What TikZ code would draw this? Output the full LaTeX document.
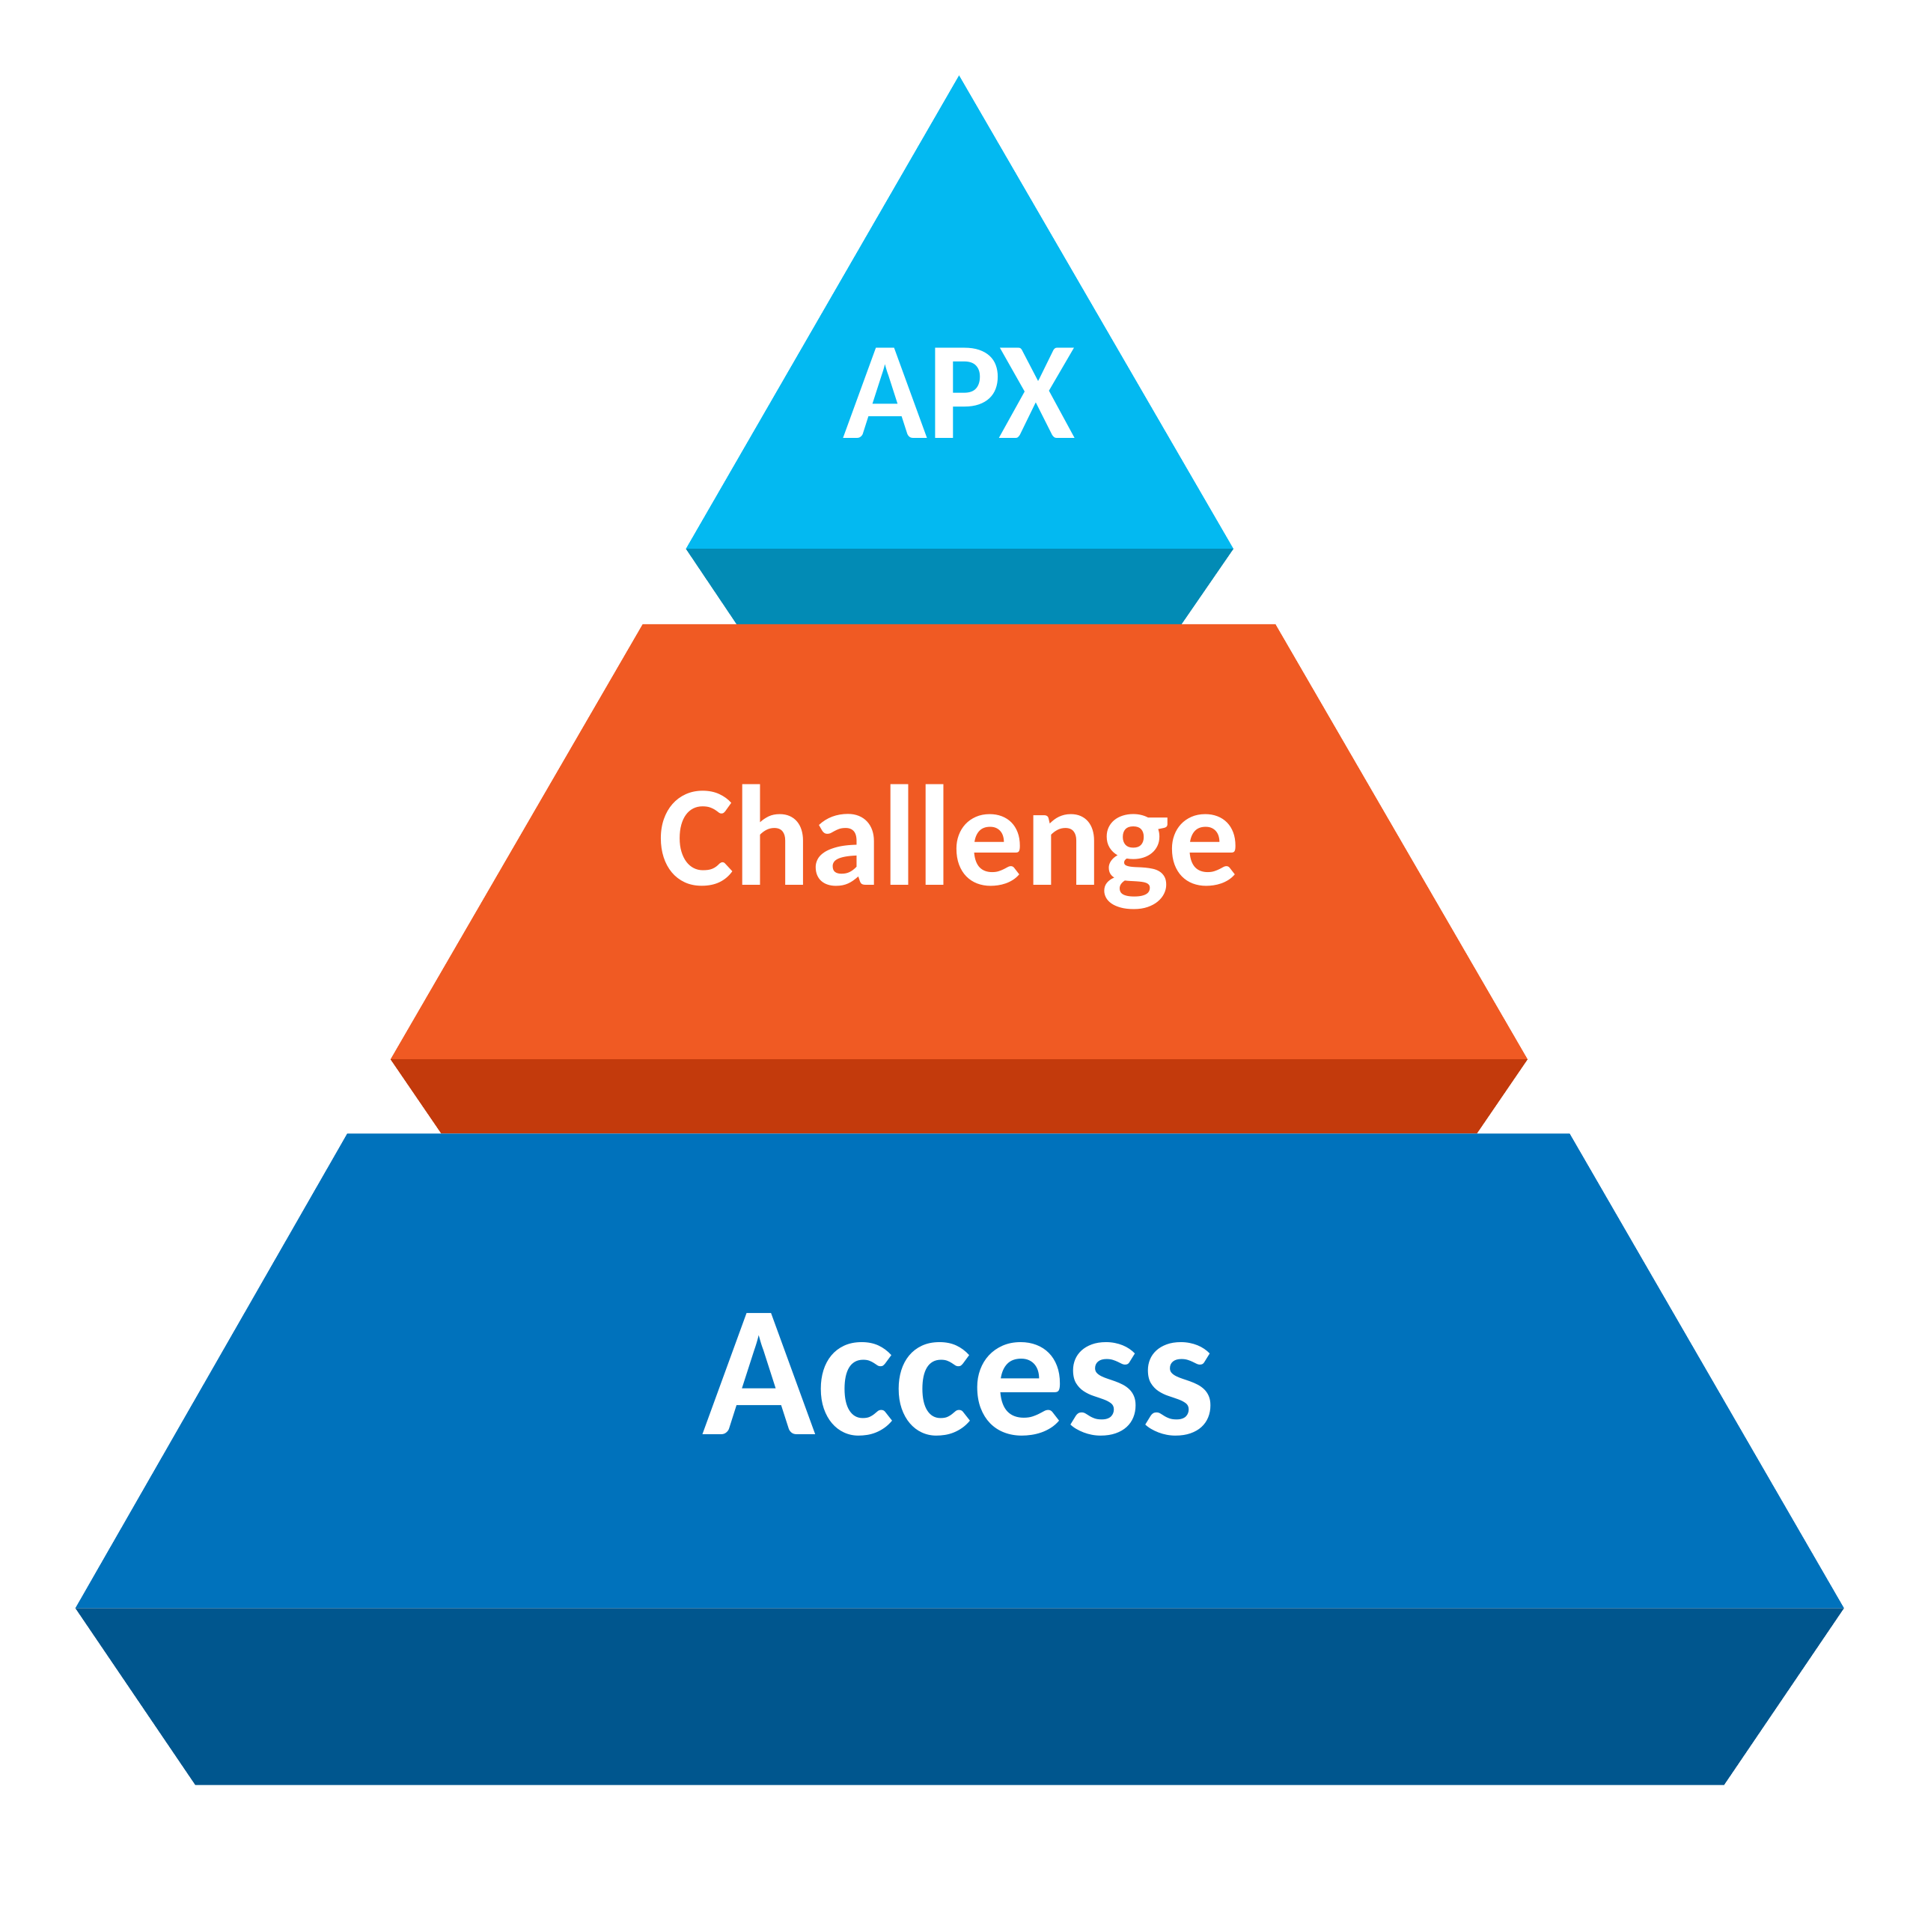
\documentclass[tikz,border=0pt]{standalone}
\usepackage{fontspec}
\setmainfont{Carlito}
\definecolor{apx}{HTML}{03B9F1}
\definecolor{apxd}{HTML}{028BB5}
\definecolor{chl}{HTML}{F05A23}
\definecolor{chld}{HTML}{C33A0C}
\definecolor{acc}{HTML}{0072BC}
\definecolor{accd}{HTML}{00568E}
\tikzset{lbl/.style={text=white,font=\bfseries,anchor=center}}
\begin{document}
\begin{tikzpicture}[x=0.01cm,y=-0.01cm]
\useasboundingbox[fill=white] (0,0) rectangle (1550,1563);
% top
\fill[apx] (776,61) -- (998,444) -- (555,444) -- cycle;
\fill[apxd] (555,444) -- (998,444) -- (956,505) -- (596,505) -- cycle;
% middle
\fill[chl] (520,505) -- (1032,505) -- (1236,857) -- (316,857) -- cycle;
\fill[chld] (316,857) -- (1236,857) -- (1195,917) -- (357,917) -- cycle;
% bottom
\fill[acc] (281,917) -- (1270,917) -- (1492,1301) -- (61,1301) -- cycle;
\fill[accd] (61,1301) -- (1492,1301) -- (1395,1444) -- (158,1444) -- cycle;
\node[lbl,font=\fontsize{32}{36}\selectfont\bfseries] (apxlbl) at (776,318) {APX};
\node[lbl,font=\fontsize{33}{38}\selectfont\bfseries] (chllbl) at (768,685) {Challenge};
\node[lbl,font=\fontsize{43}{48}\selectfont\bfseries] (acclbl) at (776,1112) {Access};
\end{tikzpicture}
\end{document}
